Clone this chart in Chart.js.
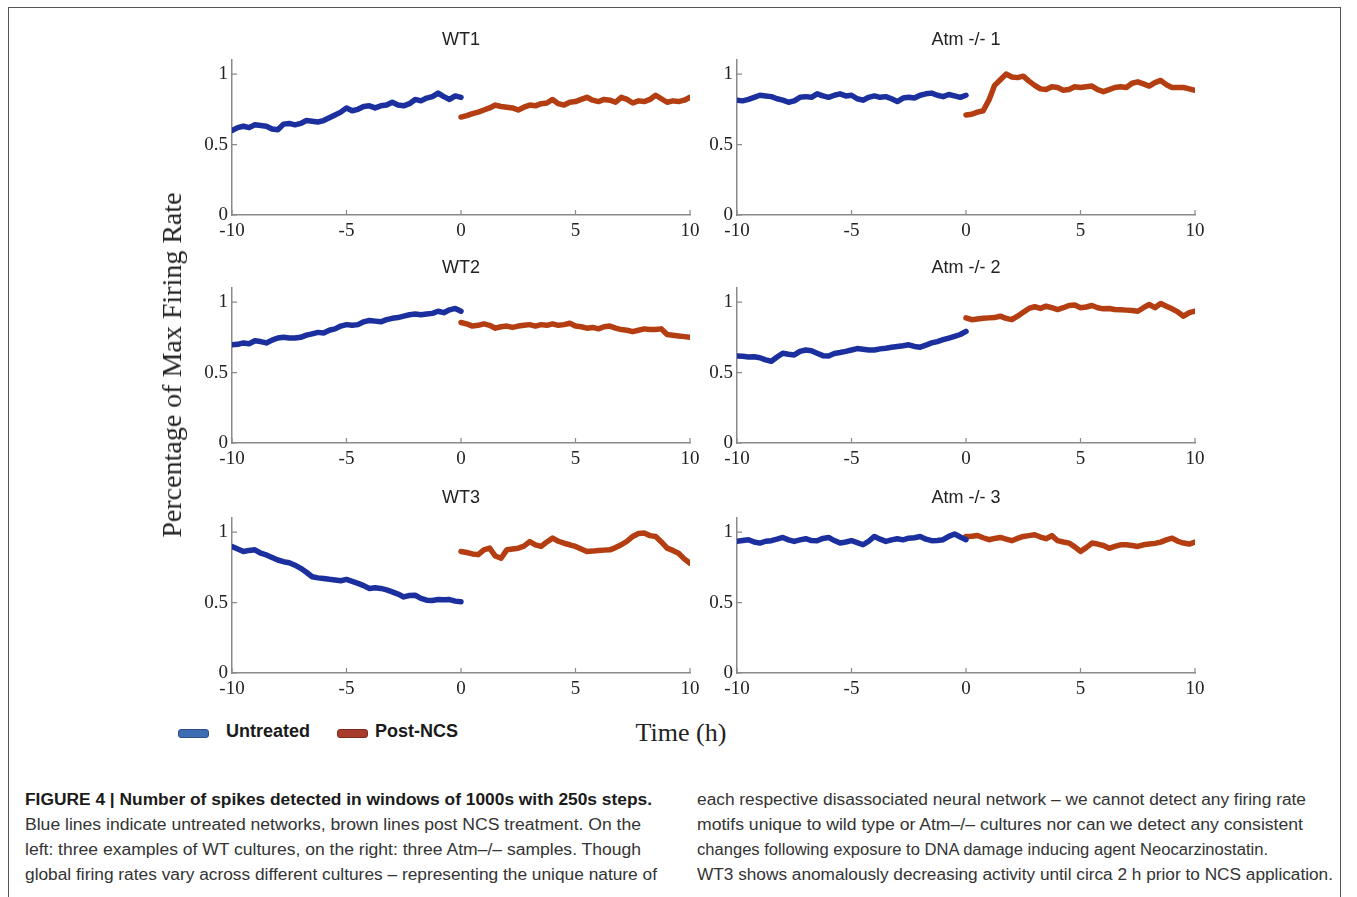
<!DOCTYPE html>
<html>
<head>
<meta charset="utf-8">
<script src="https://cdn.jsdelivr.net/npm/chart.js@4.4.1/dist/chart.umd.min.js"></script>
<style>
  body { margin: 0; background: #fff; width: 1357px; height: 897px; position: relative; overflow: hidden; font-family: "Liberation Sans", Arial, sans-serif; }
  #frame { position: absolute; left: 8px; top: 7px; width: 1331px; height: 900px; border: 1.5px solid #555; border-bottom: none; }
  .panel { position: absolute; width: 570px; height: 225px; }
  .ylab { position: absolute; left: 172px; top: 365px; font: 28px "Liberation Serif", serif; color: #222; white-space: nowrap; transform: translate(-50%, -50%) rotate(-90deg); }
  .xlab { position: absolute; left: 681px; top: 733px; font: 26px "Liberation Serif", serif; color: #222; white-space: nowrap; transform: translate(-50%, -50%); }
  .sw { position: absolute; width: 29px; height: 7px; border-radius: 3px; }
  .lg { position: absolute; top: 721px; font: bold 18px "Liberation Sans", Arial, sans-serif; color: #1a1a1a; }
  .cap { position: absolute; font-size: 16px; line-height: 20px; color: #333; white-space: nowrap; transform-origin: 0 50%; }
  .cap.b { font-weight: bold; color: #1a1a1a; }
</style>
</head>
<body>
<div id="frame"></div>

<canvas id="c0" class="panel" width="570" height="225" style="left:140px;top:28px"></canvas>
<canvas id="c1" class="panel" width="570" height="225" style="left:645px;top:28px"></canvas>
<canvas id="c2" class="panel" width="570" height="225" style="left:140px;top:256px"></canvas>
<canvas id="c3" class="panel" width="570" height="225" style="left:645px;top:256px"></canvas>
<canvas id="c4" class="panel" width="570" height="225" style="left:140px;top:486px"></canvas>
<canvas id="c5" class="panel" width="570" height="225" style="left:645px;top:486px"></canvas>

<div class="ylab">Percentage of Max Firing Rate</div>
<div class="xlab">Time (h)</div>

<div class="sw" style="left:178px;top:729px;background:#3f6db3;border:1px solid #2c4f8c;"></div>
<div class="lg" style="left:226px">Untreated</div>
<div class="sw" style="left:337px;top:729px;background:#a83c2c;border:1px solid #80281c;"></div>
<div class="lg" style="left:375px">Post-NCS</div>

<div id="caption"></div>

<script>
// time axis (h)
const hoursPre = [-10, -9.75, -9.5, -9.25, -9, -8.75, -8.5, -8.25, -8, -7.75, -7.5, -7.25, -7, -6.75, -6.5, -6.25, -6, -5.75, -5.5, -5.25,
  -5, -4.75, -4.5, -4.25, -4, -3.75, -3.5, -3.25, -3, -2.75, -2.5, -2.25, -2, -1.75, -1.5, -1.25, -1, -0.75, -0.5, -0.25, 0]
const hoursPost = [0, 0.25, 0.5, 0.75, 1, 1.25, 1.5, 1.75, 2, 2.25, 2.5, 2.75, 3, 3.25, 3.5, 3.75, 4, 4.25, 4.5, 4.75,
  5, 5.25, 5.5, 5.75, 6, 6.25, 6.5, 6.75, 7, 7.25, 7.5, 7.75, 8, 8.25, 8.5, 8.75, 9, 9.25, 9.5, 9.75, 10]
const xTicks = [-10, -5, 0, 5, 10]
const yTicks = [0, 0.5, 1]

const panelTitles = ['WT1', 'Atm -/- 1', 'WT2', 'Atm -/- 2', 'WT3', 'Atm -/- 3']
const legendLabels = ['Untreated', 'Post-NCS']

// fraction of max firing rate, untreated (before 0) and post NCS (after 0)
const wt1Untreated = [0.60, 0.62, 0.63, 0.62, 0.64, 0.635, 0.63, 0.61, 0.605, 0.645, 0.65, 0.64, 0.65, 0.67, 0.665, 0.66, 0.67, 0.69, 0.71, 0.73,
  0.76, 0.74, 0.75, 0.77, 0.775, 0.76, 0.775, 0.78, 0.80, 0.78, 0.775, 0.79, 0.82, 0.81, 0.83, 0.84, 0.865, 0.84, 0.82, 0.845, 0.835]
const wt1PostNcs = [0.695, 0.705, 0.72, 0.73, 0.745, 0.76, 0.78, 0.77, 0.765, 0.76, 0.745, 0.765, 0.78, 0.775, 0.79, 0.795, 0.82, 0.79, 0.78, 0.80,
  0.805, 0.82, 0.835, 0.815, 0.805, 0.82, 0.815, 0.80, 0.835, 0.82, 0.795, 0.81, 0.805, 0.82, 0.85, 0.825, 0.80, 0.81, 0.805, 0.815, 0.835]
const atm1Untreated = [0.815, 0.81, 0.82, 0.835, 0.85, 0.845, 0.84, 0.825, 0.815, 0.80, 0.81, 0.835, 0.84, 0.835, 0.86, 0.845, 0.835, 0.85, 0.86, 0.845,
  0.85, 0.825, 0.815, 0.835, 0.845, 0.835, 0.84, 0.825, 0.805, 0.83, 0.835, 0.83, 0.85, 0.86, 0.865, 0.85, 0.84, 0.855, 0.845, 0.835, 0.85]
const atm1PostNcs = [0.71, 0.715, 0.73, 0.74, 0.815, 0.92, 0.96, 1.0, 0.98, 0.975, 0.985, 0.95, 0.92, 0.895, 0.89, 0.91, 0.905, 0.885, 0.89, 0.91,
  0.905, 0.91, 0.915, 0.89, 0.875, 0.89, 0.905, 0.91, 0.905, 0.935, 0.945, 0.93, 0.915, 0.94, 0.955, 0.925, 0.905, 0.905, 0.905, 0.895, 0.885]
const wt2Untreated = [0.697, 0.70, 0.71, 0.705, 0.725, 0.72, 0.71, 0.73, 0.745, 0.75, 0.745, 0.745, 0.75, 0.765, 0.775, 0.785, 0.78, 0.80, 0.81, 0.83,
  0.84, 0.835, 0.84, 0.86, 0.87, 0.865, 0.86, 0.875, 0.885, 0.89, 0.90, 0.91, 0.915, 0.91, 0.915, 0.92, 0.935, 0.925, 0.945, 0.955, 0.935]
const wt2PostNcs = [0.855, 0.845, 0.83, 0.835, 0.845, 0.835, 0.815, 0.825, 0.83, 0.82, 0.83, 0.835, 0.84, 0.83, 0.84, 0.835, 0.845, 0.835, 0.84, 0.85,
  0.83, 0.825, 0.815, 0.82, 0.81, 0.825, 0.83, 0.815, 0.805, 0.80, 0.79, 0.80, 0.81, 0.805, 0.805, 0.81, 0.77, 0.765, 0.76, 0.755, 0.75]
const atm2Untreated = [0.618, 0.615, 0.61, 0.612, 0.605, 0.59, 0.58, 0.61, 0.637, 0.63, 0.625, 0.65, 0.66, 0.655, 0.637, 0.62, 0.618, 0.635, 0.642, 0.65,
  0.66, 0.67, 0.665, 0.66, 0.66, 0.668, 0.673, 0.68, 0.685, 0.69, 0.697, 0.685, 0.68, 0.695, 0.71, 0.72, 0.733, 0.745, 0.757, 0.77, 0.792]
const atm2PostNcs = [0.888, 0.875, 0.88, 0.885, 0.888, 0.89, 0.90, 0.885, 0.875, 0.90, 0.928, 0.955, 0.967, 0.955, 0.971, 0.96, 0.947, 0.96, 0.976, 0.98,
  0.96, 0.965, 0.976, 0.96, 0.952, 0.955, 0.947, 0.945, 0.943, 0.94, 0.935, 0.96, 0.983, 0.96, 0.99, 0.97, 0.952, 0.93, 0.90, 0.925, 0.935]
const wt3Untreated = [0.898, 0.88, 0.862, 0.87, 0.874, 0.85, 0.838, 0.82, 0.802, 0.79, 0.783, 0.765, 0.743, 0.715, 0.683, 0.675, 0.671, 0.665, 0.66, 0.655,
  0.664, 0.65, 0.636, 0.62, 0.60, 0.605, 0.60, 0.59, 0.576, 0.56, 0.54, 0.55, 0.552, 0.53, 0.517, 0.515, 0.521, 0.52, 0.521, 0.51, 0.505]
const wt3PostNcs = [0.862, 0.855, 0.845, 0.84, 0.874, 0.886, 0.83, 0.814, 0.874, 0.88, 0.886, 0.90, 0.933, 0.91, 0.898, 0.93, 0.957, 0.935, 0.921, 0.91,
  0.898, 0.88, 0.862, 0.865, 0.869, 0.872, 0.874, 0.89, 0.91, 0.935, 0.969, 0.99, 0.993, 0.975, 0.969, 0.93, 0.886, 0.87, 0.85, 0.81, 0.779]
const atm3Untreated = [0.934, 0.94, 0.946, 0.93, 0.922, 0.935, 0.939, 0.95, 0.962, 0.945, 0.934, 0.945, 0.953, 0.94, 0.939, 0.955, 0.962, 0.94, 0.922, 0.93,
  0.939, 0.925, 0.91, 0.935, 0.969, 0.95, 0.934, 0.945, 0.953, 0.945, 0.957, 0.96, 0.969, 0.95, 0.939, 0.94, 0.946, 0.97, 0.986, 0.965, 0.946]
const atm3PostNcs = [0.969, 0.97, 0.976, 0.96, 0.946, 0.955, 0.962, 0.95, 0.939, 0.955, 0.969, 0.975, 0.981, 0.965, 0.953, 0.975, 0.939, 0.93, 0.922, 0.895,
  0.863, 0.89, 0.922, 0.915, 0.905, 0.885, 0.898, 0.91, 0.91, 0.905, 0.898, 0.91, 0.915, 0.92, 0.929, 0.945, 0.957, 0.935, 0.922, 0.915, 0.929]

const untreatedSeries = [wt1Untreated, atm1Untreated, wt2Untreated, atm2Untreated, wt3Untreated, atm3Untreated]
const postNcsSeries = [wt1PostNcs, atm1PostNcs, wt2PostNcs, atm2PostNcs, wt3PostNcs, atm3PostNcs]

const captionLeft = [
  'FIGURE 4 | Number of spikes detected in windows of 1000s with 250s steps.',
  'Blue lines indicate untreated networks, brown lines post NCS treatment. On the',
  'left: three examples of WT cultures, on the right: three Atm\u2013/\u2013 samples. Though',
  'global firing rates vary across different cultures \u2013 representing the unique nature of'
]
const captionRight = [
  'each respective disassociated neural network \u2013 we cannot detect any firing rate',
  'motifs unique to wild type or Atm\u2013/\u2013 cultures nor can we detect any consistent',
  'changes following exposure to DNA damage inducing agent Neocarzinostatin.',
  'WT3 shows anomalously decreasing activity until circa 2 h prior to NCS application.'
]

const blue = '#1b309e'
const brown = '#b43e12'
const axisColor = '#8a8a8a'

// matlab style ticks pointing into the plot, and the panel title over the plot area
const matlabLook = {
  id: 'matlabLook',
  afterDraw(chart) {
    const { ctx, chartArea: a, scales: { x, y } } = chart
    ctx.save()
    ctx.strokeStyle = axisColor
    ctx.lineWidth = 1.2
    ctx.beginPath()
    x.ticks.forEach(t => {
      const px = x.getPixelForValue(t.value)
      ctx.moveTo(px, a.bottom)
      ctx.lineTo(px, a.bottom - 5)
    })
    y.ticks.forEach(t => {
      const py = y.getPixelForValue(t.value)
      ctx.moveTo(a.left, py)
      ctx.lineTo(a.left + 5, py)
    })
    ctx.stroke()
    ctx.fillStyle = '#222'
    ctx.font = '18px "Liberation Sans", Arial, sans-serif'
    ctx.textAlign = 'center'
    ctx.textBaseline = 'middle'
    ctx.fillText(chart.options.panelTitle, (a.left + a.right) / 2, a.top - 20)
    ctx.restore()
  }
}

const tickFont = { family: '"Liberation Serif", "Times New Roman", serif', size: 19 }

panelTitles.forEach((title, i) => {
  const ctx = document.getElementById('c' + i).getContext('2d')
  new Chart(ctx, {
    type: 'line',
    data: {
      datasets: [
        {
          label: legendLabels[0],
          data: hoursPre.map((h, k) => ({ x: h, y: untreatedSeries[i][k] })),
          borderColor: blue,
          borderWidth: 5.5
        },
        {
          label: legendLabels[1],
          data: hoursPost.map((h, k) => ({ x: h, y: postNcsSeries[i][k] })),
          borderColor: brown,
          borderWidth: 5.5
        }
      ]
    },
    options: {
      panelTitle: title,
      responsive: false,
      animation: false,
      events: [],
      elements: { point: { radius: 0 }, line: { tension: 0, borderJoinStyle: 'round', borderCapStyle: 'round' } },
      layout: { padding: { top: 32, left: 0, right: 20, bottom: 0 } },
      plugins: {
        legend: { display: false },
        tooltip: { enabled: false },
        title: { display: false }
      },
      scales: {
        x: {
          type: 'linear',
          min: -10,
          max: 10,
          afterBuildTicks: s => { s.ticks = xTicks.map(v => ({ value: v })) },
          afterFit: s => { s.height = 38; s.paddingLeft = 0; s.paddingRight = 0 },
          grid: { display: false, drawTicks: false },
          border: { display: true, color: axisColor, width: 1.5 },
          ticks: { font: tickFont, color: '#222', padding: 5, maxRotation: 0, callback: v => String(v) }
        },
        y: {
          min: 0,
          max: 1.1,
          afterBuildTicks: s => { s.ticks = yTicks.map(v => ({ value: v })) },
          afterFit: s => { s.width = 92; s.paddingTop = 0; s.paddingBottom = 0 },
          grid: { display: false, drawTicks: false },
          border: { display: true, color: axisColor, width: 1.5 },
          ticks: { font: tickFont, color: '#222', padding: 4, callback: v => String(v) }
        }
      }
    },
    plugins: [matlabLook]
  })
})

// caption, two columns, each line stretched to the column width of the print
const cap = document.getElementById('caption')
const lineTops = [790, 815, 840, 865]
const leftWidths = [627, 616, 616, 632]
const rightWidths = [609, 606, 571, 636]
function addLine(text, x, y, w, bold) {
  const d = document.createElement('div')
  d.className = 'cap' + (bold ? ' b' : '')
  d.textContent = text
  d.style.left = x + 'px'
  d.style.top = y + 'px'
  cap.appendChild(d)
  const actual = d.getBoundingClientRect().width
  d.style.transform = 'scaleX(' + (w / actual) + ')'
}
captionLeft.forEach((t, k) => addLine(t, 25, lineTops[k], leftWidths[k], k === 0))
captionRight.forEach((t, k) => addLine(t, 697, lineTops[k], rightWidths[k], false))
</script>
</body>
</html>
